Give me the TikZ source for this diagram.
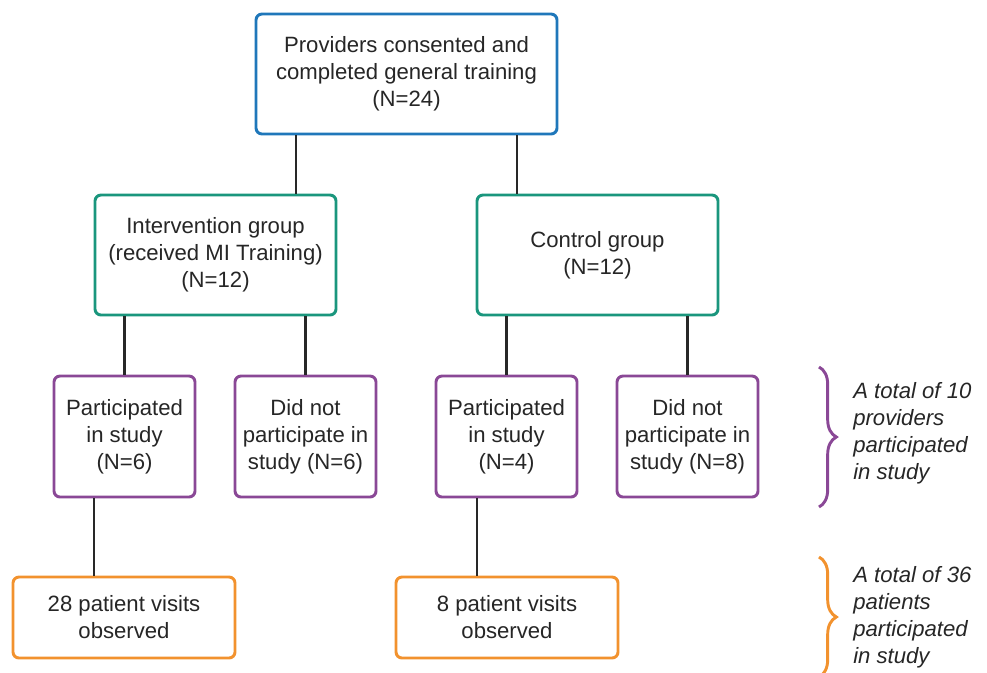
\documentclass[tikz,border=0pt]{standalone}
\usepackage{fontspec}
\setmainfont{Liberation Sans}
\usetikzlibrary{decorations.pathreplacing,calc}
\definecolor{cblue}{RGB}{31,119,186}
\definecolor{cteal}{RGB}{26,150,125}
\definecolor{cpurple}{RGB}{138,72,150}
\definecolor{corange}{RGB}{242,146,46}
\definecolor{cline}{RGB}{40,40,40}
\tikzset{
  box/.style={draw, line width=2.2pt, rounded corners=4.5pt, fill=white, align=center,
    inner sep=0pt, font=\fontsize{16.6}{20.3}\selectfont, text=black!85},
  topbox/.style={box, draw=cblue, minimum width=225.75pt, minimum height=90pt},
  grpbox/.style={box, draw=cteal, minimum width=180.75pt, minimum height=90pt},
  partbox/.style={box, draw=cpurple, minimum width=105.75pt, minimum height=90.75pt},
  visbox/.style={box, draw=corange, minimum width=166.5pt, minimum height=60.75pt},
  conn/.style={draw=cline, line width=1.9pt},
  bracestyle/.style={line width=2.2pt, decorate, decoration={brace, amplitude=13pt, aspect=0.5}},
  note/.style={anchor=west, align=left, inner sep=0pt, font=\fontsize{16.6}{20.3}\selectfont\itshape, text=black!85}
}
\begin{document}
\begin{tikzpicture}[x=0.75pt,y=-0.75pt]
\useasboundingbox (0,0) rectangle (987,672);
\clip (0,0) rectangle (987,672);

\node[topbox] (top) at (406.5,74) {Providers consented and\\completed general training\\(N=24)};
\node[grpbox] (int) at (215.5,255) {Intervention group\\(received MI Training)\\(N=12)};
\node[grpbox] (ctl) at (597.5,255) {Control group\\(N=12)};
\node[partbox] (p1) at (124.5,436.5) {Participated\\in study\\(N=6)};
\node[partbox] (d1) at (305.5,436.5) {Did not\\participate in\\study (N=6)};
\node[partbox] (p2) at (506.5,436.5) {Participated\\in study\\(N=4)};
\node[partbox] (d2) at (687.5,436.5) {Did not\\participate in\\study (N=8)};
\node[visbox] (v1) at (124,617.5) {28 patient visits\\observed};
\node[visbox] (v2) at (507,617.5) {8 patient visits\\observed};

\coordinate (xa) at (296,0);
\coordinate (xb) at (517,0);
\coordinate (xc) at (94,0);
\coordinate (xd) at (477,0);
\draw[conn] (top.south -| xa) -- (int.north -| xa);
\draw[conn] (top.south -| xb) -- (ctl.north -| xb);
\draw[conn] (int.south -| p1) -- (p1.north);
\draw[conn] (int.south -| d1) -- (d1.north);
\draw[conn] (ctl.south -| p2) -- (p2.north);
\draw[conn] (ctl.south -| d2) -- (d2.north);
\draw[conn] (p1.south -| xc) -- (v1.north -| xc);
\draw[conn] (p2.south -| xd) -- (v2.north -| xd);

\coordinate (b1t) at (819,367);
\coordinate (b1b) at (819,507);
\coordinate (b2t) at (819,557);
\coordinate (b2b) at (819,677);
\draw[bracestyle, draw=cpurple] (b1t) -- (b1b);
\draw[bracestyle, draw=corange] (b2t) -- (b2b);

\node[note] (n1) at (853,433.5) {A total of 10\\providers\\participated\\in study};
\node[note] (n2) at (853,617) {A total of 36\\patients\\participated\\in study};
\end{tikzpicture}
\end{document}
